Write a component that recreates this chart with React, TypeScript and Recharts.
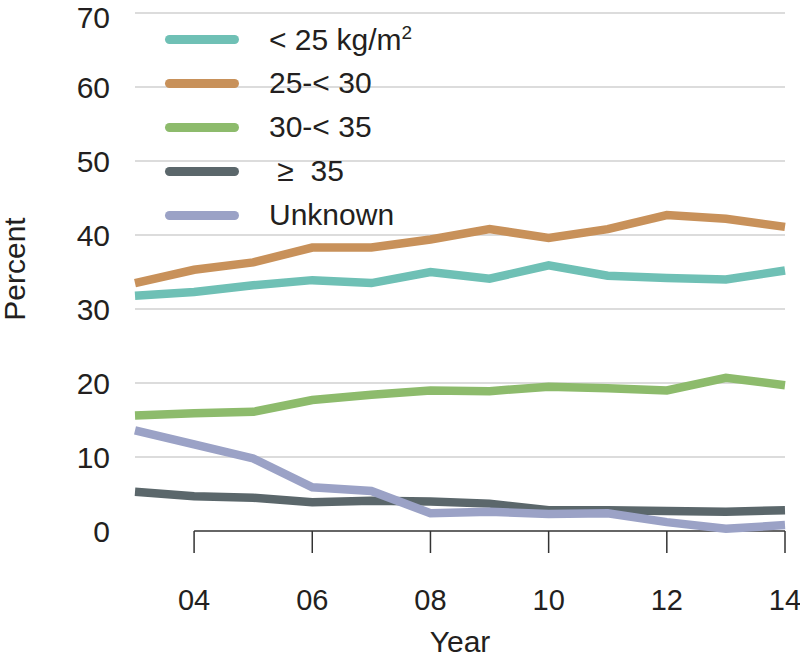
import { LineChart, Line, XAxis, YAxis, CartesianGrid, Legend, ReferenceLine } from 'recharts';

// survey years (x axis), shown as two-digit labels
const years = [3, 4, 5, 6, 7, 8, 9, 10, 11, 12, 13, 14];
const xTicks = [4, 6, 8, 10, 12, 14];
const yTicks = [0, 10, 20, 30, 40, 50, 60, 70];

// percent of respondents per BMI group
const under25 = [31.8, 32.3, 33.2, 33.9, 33.5, 35.0, 34.1, 35.9, 34.5, 34.2, 34.0, 35.2];
const from25to30 = [33.5, 35.3, 36.3, 38.3, 38.3, 39.4, 40.8, 39.6, 40.8, 42.7, 42.2, 41.1];
const from30to35 = [15.6, 15.9, 16.1, 17.7, 18.4, 19.0, 18.9, 19.5, 19.3, 19.0, 20.7, 19.7];
const over35 = [5.3, 4.7, 4.5, 3.9, 4.1, 4.0, 3.7, 2.8, 2.8, 2.7, 2.6, 2.8];
const unknown = [13.6, 11.7, 9.8, 5.9, 5.4, 2.4, 2.6, 2.3, 2.4, 1.2, 0.3, 0.8];

const series = [
  { key: 'u25', label: '< 25 kg/m', sup: '2', color: '#6fc0b5', values: under25 },
  { key: 'b2530', label: '25-< 30', sup: '', color: '#c8915a', values: from25to30 },
  { key: 'b3035', label: '30-< 35', sup: '', color: '#8dbb6c', values: from30to35 },
  { key: 'o35', label: '\u00a0\u2265\u00a0 35', sup: '', color: '#5b676b', values: over35 },
  { key: 'unk', label: 'Unknown', sup: '', color: '#9ba2c6', values: unknown },
];

const data = years.map((year, i) => {
  const row: Record<string, number> = { year };
  series.forEach(s => {
    row[s.key] = s.values[i];
  });
  return row;
});

const FONT = "'Liberation Sans', Arial, sans-serif";
const TEXT = '#231f20';

const renderLegend = () => (
  <div style={{ fontFamily: FONT, color: TEXT }}>
    {series.map(s => (
      <div key={s.key} style={{ display: 'flex', alignItems: 'center', height: 44 }}>
        <div
          style={{ width: 74, height: 9, borderRadius: 4.5, background: s.color, marginRight: 30 }}
        />
        <span style={{ fontSize: 30, whiteSpace: 'nowrap' }}>
          {s.label}
          {s.sup && <sup style={{ fontSize: 19 }}>{s.sup}</sup>}
        </span>
      </div>
    ))}
  </div>
);

export default function App() {
  return (
    <div style={{ position: 'absolute', left: 0, top: 0, background: '#fff' }}>
      <LineChart
        width={800}
        height={655}
        data={data}
        margin={{ top: 13, right: 15, left: 0, bottom: 0 }}
        style={{ fontFamily: FONT }}
      >
        <CartesianGrid
          vertical={false}
          horizontalValues={yTicks.filter(v => v > 0)}
          stroke="#b9b9b9"
          strokeWidth={1}
        />
        <XAxis
          dataKey="year"
          type="number"
          domain={[3, 14]}
          ticks={xTicks}
          tickFormatter={(v: number) => String(v).padStart(2, '0')}
          axisLine={false}
          tickSize={22}
          tickMargin={36}
          tickLine={{ stroke: '#333', strokeWidth: 1.5 }}
          tick={{ fill: TEXT, fontSize: 29 }}
          height={124}
          label={({ viewBox }: any) => (
            <text
              x={viewBox.x + viewBox.width / 2}
              y={viewBox.y + 121}
              textAnchor="middle"
              fill={TEXT}
              fontSize={30}
            >
              Year
            </text>
          )}
        />
        <YAxis
          type="number"
          domain={[0, 70]}
          ticks={yTicks}
          axisLine={false}
          tickLine={false}
          tickSize={0}
          tickMargin={25}
          tick={{ fill: TEXT, fontSize: 30 }}
          width={135}
          label={({ viewBox }: any) => {
            const x = viewBox.x + 25;
            const y = viewBox.y + viewBox.height / 2 - 3;
            return (
              <text
                x={x}
                y={y}
                transform={`rotate(-90, ${x}, ${y})`}
                textAnchor="middle"
                fill={TEXT}
                fontSize={30}
              >
                Percent
              </text>
            );
          }}
        />
        <ReferenceLine
          segment={[
            { x: 4, y: 0 },
            { x: 14, y: 0 },
          ]}
          stroke="#333"
          strokeWidth={1.5}
        />
        <Legend
          layout="vertical"
          align="center"
          verticalAlign="middle"
          content={renderLegend}
          wrapperStyle={{ left: 165, top: 17, width: 'auto' }}
        />
        {series.map(s => (
          <Line
            key={s.key}
            type="linear"
            dataKey={s.key}
            name={s.label}
            stroke={s.color}
            strokeWidth={8.5}
            dot={false}
            activeDot={false}
            isAnimationActive={false}
          />
        ))}
      </LineChart>
    </div>
  );
}
